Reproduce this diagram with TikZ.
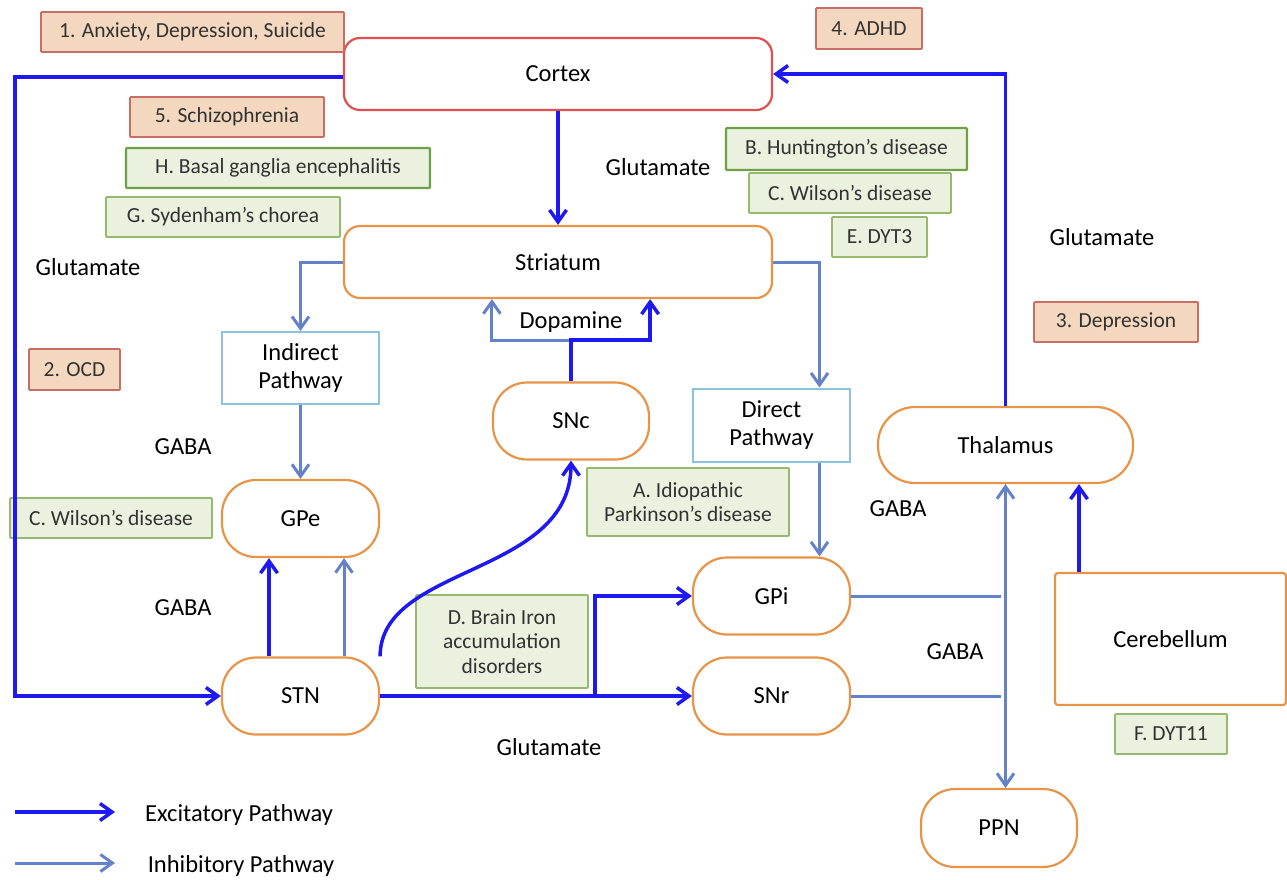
\documentclass[tikz,border=0pt]{standalone}
\usepackage{fontspec}
\setmainfont{Carlito}
\usetikzlibrary{arrows.meta}
\definecolor{exc}{RGB}{30,25,240}
\definecolor{inh}{RGB}{100,130,200}
\definecolor{orng}{RGB}{232,148,72}
\definecolor{ctxred}{RGB}{224,80,80}
\definecolor{ltblue}{RGB}{140,195,220}
\definecolor{tanfill}{RGB}{243,215,190}
\definecolor{tanborder}{RGB}{200,110,100}
\definecolor{grfill}{RGB}{234,241,222}
\definecolor{grborder}{RGB}{150,185,110}
\definecolor{grdark}{RGB}{110,160,70}
\definecolor{txtgray}{RGB}{50,50,50}
\newcommand\mainfs{\fontsize{24.5}{28}\selectfont}
\newcommand\disfs{\fontsize{21.5}{24.5}\selectfont}
\tikzset{
  base/.style={font=\mainfs, text=black, inner sep=0pt, align=center},
  pill/.style={base, draw=orng, line width=2.2pt, rounded corners=34pt, fill=white},
  ctxbox/.style={base, draw=ctxred, line width=2.2pt, rounded corners=16pt, fill=white},
  strbox/.style={base, draw=orng, line width=2.2pt, rounded corners=16pt, fill=white},
  pathbox/.style={base, draw=ltblue, line width=2pt, fill=white},
  tanbox/.style={font=\disfs, text=txtgray, inner sep=0pt, align=center, draw=tanborder, fill=tanfill, line width=1.8pt, rounded corners=1pt},
  grbox/.style={font=\disfs, text=txtgray, inner sep=0pt, align=center, draw=grborder, fill=grfill, line width=1.8pt, rounded corners=1pt},
  grdk/.style={grbox, draw=grdark, line width=2.2pt},
  lbl/.style={font=\mainfs, inner sep=0pt, text=black},
  excline/.style={draw=exc, line width=3.5pt},
  inhline/.style={draw=inh, line width=3pt},
  arr/.style={-{Straight Barb[length=12pt,width=17pt]}},
  dblarr/.style={{Straight Barb[length=12pt,width=17pt]}-{Straight Barb[length=12pt,width=17pt]}}
}
\begin{document}
\begin{tikzpicture}[x=1pt,y=-1pt]
\useasboundingbox (0,0) rectangle (1287,879);

% main nodes
\node[ctxbox, minimum width=428pt, minimum height=72pt] (cortex) at (558,74) {Cortex};
\node[strbox, minimum width=428pt, minimum height=72pt] (striatum) at (558,262) {Striatum};
\node[pathbox, minimum width=157pt, minimum height=72pt] (indirect) at (300.5,368) {Indirect\\Pathway};
\node[pill, minimum width=156pt, minimum height=77pt] (snc) at (571,421) {SNc};
\node[pathbox, minimum width=157pt, minimum height=73pt] (direct) at (771.5,425) {Direct\\Pathway};
\node[pill, minimum width=157pt, minimum height=77pt] (gpe) at (300.5,518.5) {GPe};
\node[pill, rounded corners=37pt, minimum width=255pt, minimum height=76pt] (thal) at (1005.5,445) {Thalamus};
\node[pill, minimum width=157pt, minimum height=77pt] (gpi) at (771.5,596) {GPi};
\node[pill, minimum width=157pt, minimum height=77pt] (snr) at (771.5,696) {SNr};
\node[pill, minimum width=157pt, minimum height=77pt] (stn) at (300.5,696) {STN};
\node[strbox, rounded corners=3pt, minimum width=231pt, minimum height=132pt] (cereb) at (1170.5,639) {Cerebellum};
\node[pill, minimum width=156pt, minimum height=78pt] (ppn) at (999,828) {PPN};

% disease boxes
\node[tanbox, minimum width=303pt, minimum height=40pt] (d1) at (192.5,32) {1. Anxiety, Depression, Suicide};
\node[tanbox, minimum width=106pt, minimum height=41pt] (d4) at (869,28.5) {4. ADHD};
\node[tanbox, minimum width=194pt, minimum height=40pt] (d5) at (227,117) {5. Schizophrenia};
\node[grdk, minimum width=304pt, minimum height=40pt] (dH) at (278,168) {H. Basal ganglia encephalitis};
\node[grbox, minimum width=234pt, minimum height=40pt] (dG) at (223,217) {G. Sydenham’s chorea};
\node[grdk, minimum width=241pt, minimum height=42pt] (dB) at (846.5,149) {B. Huntington’s disease};
\node[grbox, minimum width=202pt, minimum height=40pt] (dCt) at (850,193) {C. Wilson’s disease};
\node[grbox, minimum width=95pt, minimum height=40pt] (dE) at (879.5,237) {E. DYT3};
\node[tanbox, minimum width=164pt, minimum height=40pt] (d3) at (1116,322) {3. Depression};
\node[tanbox, minimum width=91pt, minimum height=41pt] (d2) at (74.5,369.5) {2. OCD};
\node[grbox, minimum width=202pt, minimum height=40pt] (dCl) at (111,518) {C. Wilson’s disease};
\node[grbox, minimum width=202pt, minimum height=68pt] (dA) at (688,502) {A. Idiopathic\\Parkinson’s disease};
\node[grbox, minimum width=172pt, minimum height=93pt] (dD) at (502,641.5) {D. Brain Iron\\accumulation\\disorders};
\node[grbox, minimum width=112pt, minimum height=40pt] (dF) at (1171,734) {F. DYT11};

% labels
\node[lbl] (glutL) at (88,267) {Glutamate};
\node[lbl] (glutC) at (658,167) {Glutamate};
\node[lbl] (glutR) at (1102,237) {Glutamate};
\node[lbl] (glutB) at (549,747) {Glutamate};
\node[lbl] (gabaL1) at (183,447) {GABA};
\node[lbl] (gabaL2) at (183,608) {GABA};
\node[lbl] (gabaR1) at (898,509) {GABA};
\node[lbl] (gabaR2) at (955,652) {GABA};
\node[lbl] (dopa) at (571,322) {Dopamine};

% coordinates
\coordinate (lft) at (15,400);
\coordinate (dj) at (571,340);
\coordinate (br) at (595,696);
\coordinate (gend) at (1001,596);
\coordinate (send) at (1001,696);

% excitatory connectors
\draw[excline, arr] ([yshift=-3pt]cortex.west) -| (lft) |- (stn.west);
\draw[excline, arr] (cortex.south) -- (striatum.north);
\draw[excline, arr] (thal.north) |- (cortex.east);
\draw[excline, arr] ([xshift=-31.5pt]stn.north) -- ([xshift=-31.5pt]gpe.south);
\draw[excline, arr] (stn.north east) .. controls +(0,-92) and +(0,116) .. (snc.south);
\draw[excline, arr] (stn.east) -- (snr.west);
\draw[excline, arr] (br) |- (gpi.west);
\draw[excline, arr] ([xshift=-91.5pt]cereb.north) -- ([xshift=-91.5pt]cereb.north |- thal.south);

% inhibitory connectors
\draw[inhline, arr] (striatum.west) -| (indirect.north);
\draw[inhline, arr] (striatum.east) -| ([xshift=48pt]direct.north);
\draw[inhline, arr] (indirect.south) -- (gpe.north);
\draw[inhline, arr] ([xshift=48pt]direct.south) -- ([xshift=48pt]gpi.north);
\draw[inhline, arr] ([xshift=43.5pt]stn.north) -- ([xshift=43.5pt]gpe.south);
\draw[inhline, arr] (dj) -| (snc.west |- striatum.south);
\draw[inhline] (gpi.east) -- (gend);
\draw[inhline] (snr.east) -- (send);
\draw[inhline, dblarr] (thal.south) -- (thal.south |- ppn.north);

% dopamine excitatory branch
\draw[excline, arr] (snc.north) -- (dj) -| (snc.east |- striatum.south);

% legend
\coordinate (le1) at (15,812);
\coordinate (le2) at (115,812);
\coordinate (li1) at (15,863);
\coordinate (li2) at (115,863);
\draw[excline, arr] (le1) -- (le2);
\draw[inhline, arr] (li1) -- (li2);
\node[lbl] (legE) at (239,815) {Excitatory Pathway};
\node[lbl] (legI) at (241,866) {Inhibitory Pathway};
\end{tikzpicture}
\end{document}
